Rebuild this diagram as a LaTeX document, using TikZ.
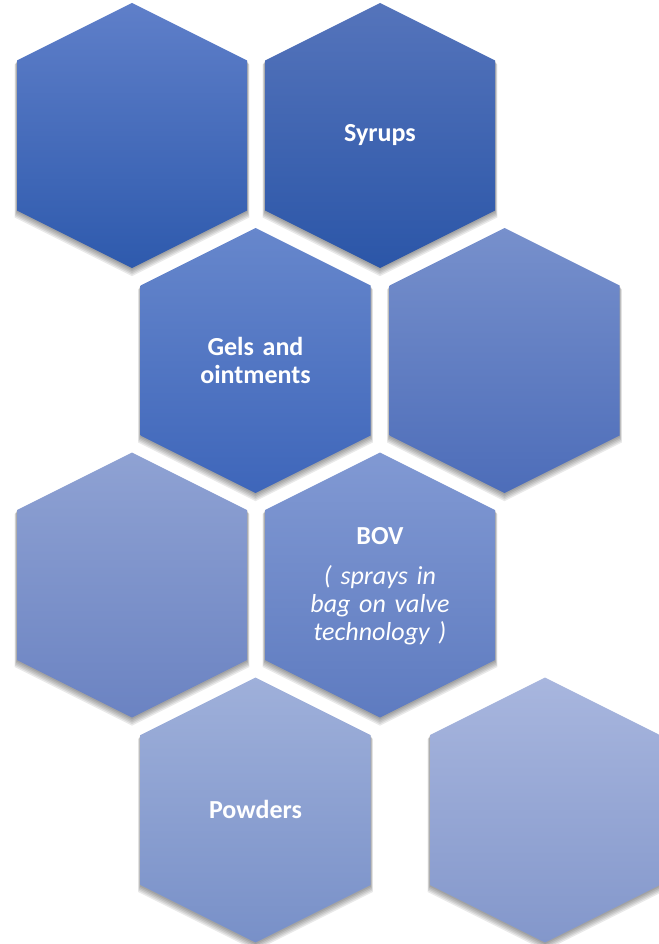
\documentclass[tikz,border=0pt]{standalone}
\usepackage{fontspec}
\setmainfont{Carlito}
\usetikzlibrary{positioning}

% Colours of the cells, from dark to light
\definecolor{cellAtop}{HTML}{5F7FC9}
\definecolor{cellAbot}{HTML}{2E5AAD}
\definecolor{cellBtop}{HTML}{5574BB}
\definecolor{cellBbot}{HTML}{2B56A8}
\definecolor{cellCtop}{HTML}{6787CC}
\definecolor{cellCbot}{HTML}{3E66BA}
\definecolor{cellDtop}{HTML}{7790CC}
\definecolor{cellDbot}{HTML}{4D6DB9}
\definecolor{cellEtop}{HTML}{8FA2D3}
\definecolor{cellEbot}{HTML}{6B83C2}
\definecolor{cellFtop}{HTML}{8199D3}
\definecolor{cellFbot}{HTML}{5E7BC0}
\definecolor{cellGtop}{HTML}{9FB0DA}
\definecolor{cellGbot}{HTML}{7890C8}
\definecolor{cellHtop}{HTML}{A8B6DE}
\definecolor{cellHbot}{HTML}{8397CB}

% Hexagon outline round the current origin
\newcommand{\hexoutline}{(0,-132.5) -- (115,-75) -- (115,75) -- (0,132.5) -- (-115,75) -- (-115,-75) -- cycle}

\tikzset{
  celltext/.style={text=white, align=center, text width=170pt,
    font={\fontsize{26}{28}\selectfont\bfseries}}
}

\begin{document}
\begin{tikzpicture}[x=1pt,y=-1pt]

\useasboundingbox (0,0) rectangle (658,944);

% Draw the cells with a soft shadow
\foreach \cx/\cy/\ctop/\cbot in {
  132/135.5/cellAtop/cellAbot, 380/135.5/cellBtop/cellBbot,
  255.5/360.5/cellCtop/cellCbot, 504.5/360.5/cellDtop/cellDbot,
  132/585/cellEtop/cellEbot, 380/585/cellFtop/cellFbot,
  255.5/810/cellGtop/cellGbot, 545/810/cellHtop/cellHbot}
{
  \begin{scope}[shift={(\cx,\cy)}]
    % shadow
    \foreach \k in {1,...,5}
      \fill[black, opacity=0.085, yshift=-1.1*\k pt, scale=1+0.004*\k] \hexoutline;
    % cell
    \shade[top color=\ctop, bottom color=\cbot] \hexoutline;
  \end{scope}
}

% Labels
\node[celltext] (syrups) at (380,135) {Syrups};
\node[celltext] (gels) at (255.5,360) {Gels and\\ointments};
\node[celltext] (bov) at (380,586) {BOV\\[12pt]
  {\mdseries\itshape ( sprays in}\\
  {\mdseries\itshape bag on valve}\\
  {\mdseries\itshape technology )}};
\node[celltext] (powders) at (255.5,809) {Powders};

\end{tikzpicture}
\end{document}
